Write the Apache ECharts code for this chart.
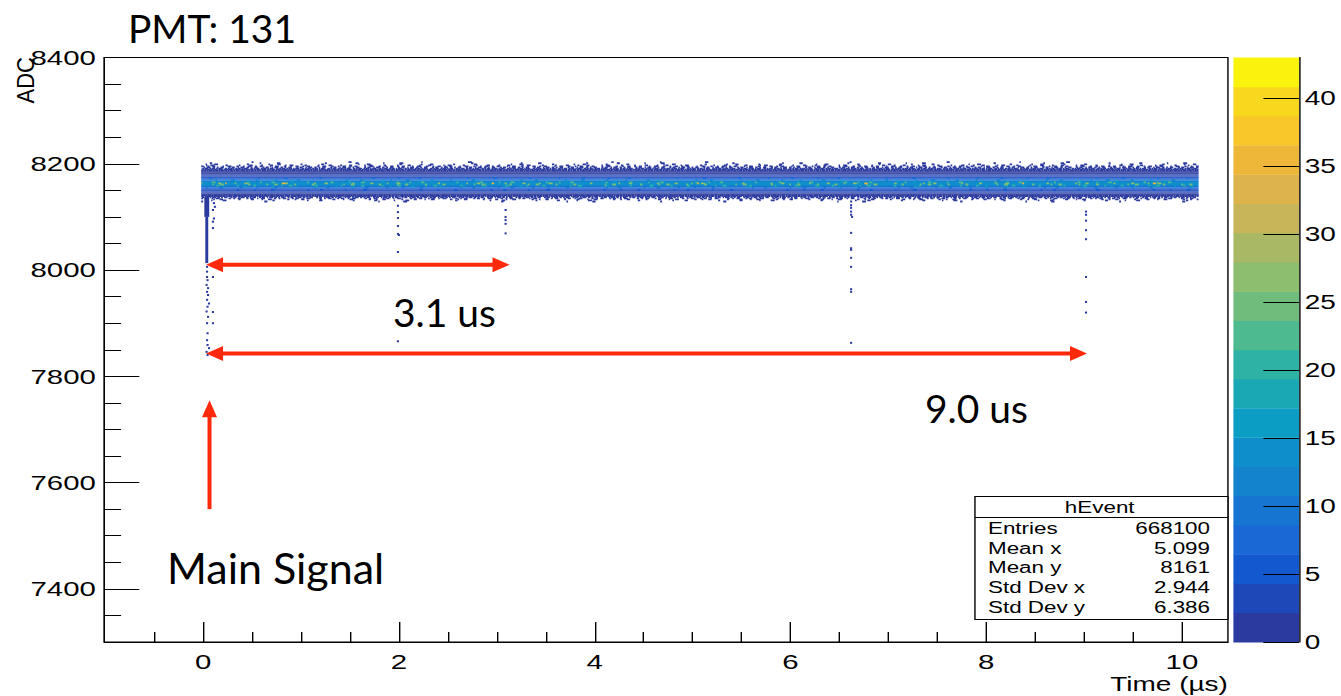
<!DOCTYPE html>
<html>
<head>
<meta charset="utf-8">
<title>PMT 131 – hEvent</title>
<script src="https://cdn.jsdelivr.net/npm/echarts@6.0.0/dist/echarts.min.js"></script>
<style>
  html, body { margin: 0; padding: 0; background: #ffffff; overflow: hidden; }
  #stage { width: 1341px; height: 696px; overflow: hidden; }
  /* The ROOT canvas is shown 1.4x wider than it is tall */
  #chart { width: 958px; height: 696px; transform: scaleX(1.4); transform-origin: 0 0; }
</style>
</head>
<body>
<div id="stage"><div id="chart"></div></div>
<script>
// ---------------- axis ticks ----------------
const timeMajorTicks = [0, 2, 4, 6, 8, 10];
const timeMinorTicks = [-0.5, 0.5, 1, 1.5, 2.5, 3, 3.5, 4.5, 5, 5.5, 6.5, 7, 7.5, 8.5, 9, 9.5];
const adcMajorTicks = [7400, 7600, 7800, 8000, 8200, 8400];
const adcMinorTicks = [7350, 7450, 7500, 7550, 7650, 7700, 7750, 7850, 7900, 7950,
                       8050, 8100, 8150, 8250, 8300, 8350];
const countTicks = [0, 5, 10, 15, 20, 25, 30, 35, 40];

// ---------------- baseline band (2-ADC rows) ----------------
const baselineStart = -0.02;   // µs
const baselineEnd = 10.17;     // µs
const bandRowAdc = [8128, 8130, 8132, 8134, 8136, 8138, 8140, 8142, 8144, 8146,
                    8148, 8150, 8152, 8154, 8156, 8158, 8160, 8162, 8164, 8166,
                    8168, 8170, 8172, 8174, 8176, 8178, 8180, 8182, 8184, 8186,
                    8188, 8190, 8192, 8194, 8196, 8198, 8200, 8202];
const bandRowCount = [1, 1, 1, 1, 1, 1, 1.5, 2, 2, 2.5,
                      3, 4, 5, 7, 9, 11, 13, 14, 13, 11,
                      9, 7, 5, 4, 3, 2.5, 2, 2, 1.5, 1,
                      1, 1, 1, 1, 1, 1, 1, 1];
const bandRowFill = [0.04, 0.10, 0.22, 0.40, 0.62, 0.82, 0.95, 1, 1, 1,
                     1, 1, 1, 1, 1, 1, 1, 1, 1, 1,
                     1, 1, 1, 1, 1, 1, 1, 1, 1, 0.95,
                     0.85, 0.70, 0.52, 0.36, 0.22, 0.12, 0.07, 0.03];
// hot cells scattered through the core of the band
const hotRowAdc = [8150, 8154, 8156, 8158, 8160, 8162, 8164, 8166, 8168, 8172, 8162];
const hotRowCount = [6, 10, 16, 20, 24, 27, 22, 17, 12, 8, 36];
const hotRowFill = [0.10, 0.12, 0.10, 0.12, 0.14, 0.12, 0.12, 0.10, 0.10, 0.08, 0.015];

// ---------------- main pulse (dense column) ----------------
const pulseColumnT0 = [0.012, 0.022];
const pulseColumnT1 = [0.062, 0.052];
const pulseColumnLow = [8100, 8013];
const pulseColumnHigh = [8138, 8100];
const pulseColumnCount = [2, 1];

// ---------------- isolated single hits: pulse tail and afterpulses ----------------
const hitTime = [
  0.04, 0.04, 0.04, 0.045, 0.035, 0.05, 0.04, 0.05, 0.04, 0.06, 0.045, 0.035, 0.05, 0.04, 0.10, 0.045, 0.04, 0.045, 0.06, 0.035, 0.045,
  0.10, 0.10, 0.10, 0.11, 0.12, 0.10, 0.11, 0.10,
  1.99, 1.99, 1.99, 1.99, 1.99, 2.00, 1.99, 1.99, 1.99,
  3.09, 3.09, 3.09, 3.09, 3.09,
  6.62, 6.62, 6.62, 6.62, 6.62, 6.63, 6.62, 6.62, 6.62, 6.62, 6.62, 6.62, 6.62, 6.62,
  9.02, 9.02, 9.02, 9.02, 9.02, 9.02, 9.02, 9.02
];
const hitAdc = [
  8006, 7997, 7987, 7981, 7972, 7966, 7959, 7953, 7944, 7937, 7931, 7922, 7912, 7900, 7900, 7881, 7868, 7859, 7853, 7846, 7840,
  8079, 7987, 7921, 8126, 8119, 8113, 8097, 8091,
  8121, 8109, 8098, 8083, 8068, 8066, 8034, 7902, 7866,
  8113, 8100, 8094, 8087, 8069,
  8129, 8122, 8117, 8110, 8104, 8100, 8070, 8041, 8038, 8023, 8006, 7964, 7959, 7863,
  8110, 8104, 8093, 8075, 8058, 7987, 7940, 7920
];

// ---------------- delays from the main pulse ----------------
const pulseTime = 0.03;                 // µs
const delayValues = [3.1, 9.0];         // µs
const delayLabels = delayValues.map(v => v.toFixed(1) + ' us');

// ---------------- statistics box ----------------
const statNames = ['Entries', 'Mean x', 'Mean y', 'Std Dev x', 'Std Dev y'];
const statValues = ['668100', '5.099', '8161', '2.944', '6.386'];

// ---------------- style ----------------
const STRETCH = 1.4;
const Z_MAX = 43;
const N_CONTOURS = 20;
const PALETTE = ['#2b3a9e', '#1e47b8', '#1458d0', '#1a68d5', '#1775d2', '#1483ce', '#0e8fcb',
                 '#0b9dc4', '#1ba8b5', '#2db2a5', '#4eba90', '#6fbc7d', '#8dbd6e', '#a9b865',
                 '#c8b459', '#ddb44b', '#eeb73a', '#fac72a', '#f8d81f', '#f9f30d'];
const ARROW_RED = '#ff2a0c';
const ROW_ADC = 2;
const DASH_RUNS = [1.4, 2.2, 1.0, 2.8, 1.7, 1.2, 2.4];
const GAP_JITTER = [1.3, 0.6, 1.0, 1.5, 0.8, 1.1, 0.7];

function countColor(c) {
  const i = Math.floor(c / (Z_MAX / N_CONTOURS));
  return PALETTE[Math.max(0, Math.min(N_CONTOURS - 1, i))];
}

// irregular dash pattern giving a row roughly the requested filled fraction
function dashFor(fill, seed) {
  const out = [];
  for (let i = 0; i < DASH_RUNS.length; i++) {
    const on = DASH_RUNS[(i + seed) % DASH_RUNS.length];
    const off = on * (1 - fill) / fill * GAP_JITTER[(i * 3 + seed) % GAP_JITTER.length];
    out.push(on, Math.max(off, 0.3));
  }
  return out;
}

function renderRow(params, api) {
  const adc = api.value(0), count = api.value(1), fill = api.value(2);
  const a = api.coord([baselineStart, adc + ROW_ADC / 2]);
  const b = api.coord([baselineEnd, adc + ROW_ADC / 2]);
  const h = api.size([0, ROW_ADC])[1];
  const color = countColor(count);
  if (fill >= 1) {
    return { type: 'rect', shape: { x: a[0], y: a[1] - h / 2, width: b[0] - a[0], height: h + 0.05 },
             style: { fill: color } };
  }
  const seed = params.dataIndex;
  return {
    type: 'line',
    shape: { x1: a[0], y1: a[1], x2: b[0], y2: b[1] },
    style: { stroke: color, lineWidth: Math.max(h, 1.8), lineDash: dashFor(fill, seed),
             lineDashOffset: seed * 7.3 }
  };
}

// filled arrow(s) built in screen space, so heads stay undistorted after the stretch
function arrowShape(p0, p1, both) {
  const ax = p0[0] * STRETCH, ay = p0[1], bx = p1[0] * STRETCH, by = p1[1];
  const dx = bx - ax, dy = by - ay, len = Math.hypot(dx, dy);
  const ux = dx / len, uy = dy / len, nx = -uy, ny = ux;
  const HL = 17, HW = 7.5, SW = 2;
  const pt = (x, y) => [x / STRETCH, y];
  const s0 = both ? HL - 1 : 0, s1 = HL - 1;
  const children = [{
    type: 'polygon',
    shape: { points: [
      pt(ax + ux * s0 + nx * SW, ay + uy * s0 + ny * SW),
      pt(bx - ux * s1 + nx * SW, by - uy * s1 + ny * SW),
      pt(bx - ux * s1 - nx * SW, by - uy * s1 - ny * SW),
      pt(ax + ux * s0 - nx * SW, ay + uy * s0 - ny * SW)
    ] },
    style: { fill: ARROW_RED }
  }, {
    type: 'polygon',
    shape: { points: [
      pt(bx, by),
      pt(bx - ux * HL + nx * HW, by - uy * HL + ny * HW),
      pt(bx - ux * HL - nx * HW, by - uy * HL - ny * HW)
    ] },
    style: { fill: ARROW_RED }
  }];
  if (both) {
    children.push({
      type: 'polygon',
      shape: { points: [
        pt(ax, ay),
        pt(ax + ux * HL + nx * HW, ay + uy * HL + ny * HW),
        pt(ax + ux * HL - nx * HW, ay + uy * HL - ny * HW)
      ] },
      style: { fill: ARROW_RED }
    });
  }
  return { type: 'group', children };
}

// arrows: [t0, adc0, t1, adc1, double-headed]
const arrowData = [
  [pulseTime, 8010, pulseTime + delayValues[0], 8010, 1],
  [pulseTime, 7843, pulseTime + delayValues[1], 7843, 1],
  [0.065, 7550, 0.065, 7755, 0]
];

const bandData = bandRowAdc.map((a, i) => [a, bandRowCount[i], bandRowFill[i]])
  .concat(hotRowAdc.map((a, i) => [a, hotRowCount[i], hotRowFill[i]]));
const columnData = pulseColumnT0.map((t, i) =>
  [t, pulseColumnLow[i], pulseColumnT1[i], pulseColumnHigh[i], pulseColumnCount[i]]);
const hitData = hitTime.map((t, i) => [t, hitAdc[i]]);
const paletteData = PALETTE.map((c, i) => [i, i]);

const axisText = { color: '#000', fontFamily: 'Liberation Sans' };
const black = { color: '#000', width: 1 };
const plain = v => String(v);

const option = {
  animation: false,
  backgroundColor: '#ffffff',
  textStyle: { fontFamily: 'Liberation Sans' },
  grid: [
    { left: 74.5, top: 57.5, width: 802.6, height: 584.5, show: true,
      borderColor: '#000', borderWidth: 1, backgroundColor: 'transparent' },
    { left: 881, top: 57.5, width: 46.9, height: 584.5, show: false }
  ],
  xAxis: [
    { type: 'value', gridIndex: 0, min: -1.01, max: 10.47, position: 'bottom', z: 5,
      axisLine: { onZero: false, lineStyle: black },
      axisTick: { inside: true, length: 20, customValues: timeMajorTicks, lineStyle: black },
      axisLabel: { customValues: timeMajorTicks, formatter: plain, fontSize: 21, margin: 9, ...axisText },
      splitLine: { show: false } },
    { type: 'value', gridIndex: 0, min: -1.01, max: 10.47, position: 'bottom', z: 5,
      axisLine: { show: false, onZero: false },
      axisTick: { inside: true, length: 10, customValues: timeMinorTicks, lineStyle: black },
      axisLabel: { show: false }, splitLine: { show: false } },
    { type: 'value', gridIndex: 1, min: 0, max: 1, show: false }
  ],
  yAxis: [
    { type: 'value', gridIndex: 0, min: 7300, max: 8400, position: 'left', z: 5,
      axisLine: { onZero: false, lineStyle: black },
      axisTick: { inside: true, length: 25, customValues: adcMajorTicks, lineStyle: black },
      axisLabel: { customValues: adcMajorTicks, formatter: plain, fontSize: 21, margin: 6, ...axisText },
      splitLine: { show: false } },
    { type: 'value', gridIndex: 0, min: 7300, max: 8400, position: 'left', z: 5,
      axisLine: { show: false, onZero: false },
      axisTick: { inside: true, length: 12, customValues: adcMinorTicks, lineStyle: black },
      axisLabel: { show: false }, splitLine: { show: false } },
    { type: 'value', gridIndex: 1, min: 0, max: Z_MAX, position: 'right', z: 5,
      axisLine: { onZero: false, lineStyle: black },
      axisTick: { inside: true, length: 25.5, customValues: countTicks, lineStyle: black },
      axisLabel: { customValues: countTicks, formatter: plain, fontSize: 20, margin: 4, ...axisText },
      splitLine: { show: false } }
  ],
  series: [
    { type: 'custom', name: 'baseline', xAxisIndex: 0, yAxisIndex: 0, z: 2,
      encode: { x: -1, y: 0 }, data: bandData, renderItem: renderRow },
    { type: 'custom', name: 'pulse', xAxisIndex: 0, yAxisIndex: 0, z: 3, data: columnData,
      encode: { x: [0, 2], y: [1, 3] },
      renderItem(params, api) {
        const p0 = api.coord([api.value(0), api.value(1)]);
        const p1 = api.coord([api.value(2), api.value(3)]);
        return { type: 'rect',
                 shape: { x: p0[0], y: p1[1], width: Math.max(p1[0] - p0[0], 1.5), height: p0[1] - p1[1] },
                 style: { fill: countColor(api.value(4)) } };
      } },
    { type: 'custom', name: 'hits', xAxisIndex: 0, yAxisIndex: 0, z: 3, data: hitData,
      renderItem(params, api) {
        const p = api.coord([api.value(0), api.value(1)]);
        return { type: 'rect', shape: { x: p[0] - 0.75, y: p[1] - 1, width: 1.5, height: 2 },
                 style: { fill: countColor(1) } };
      } },
    { type: 'custom', name: 'arrows', xAxisIndex: 0, yAxisIndex: 0, z: 6, data: arrowData,
      encode: { x: [0, 2], y: [1, 3] },
      renderItem(params, api) {
        const p0 = api.coord([api.value(0), api.value(1)]);
        const p1 = api.coord([api.value(2), api.value(3)]);
        return arrowShape(p0, p1, api.value(4) === 1);
      } },
    { type: 'custom', name: 'palette', xAxisIndex: 2, yAxisIndex: 2, z: 2, data: paletteData,
      encode: { x: -1, y: 1 },
      renderItem(params, api) {
        const i = api.value(0);
        const step = Z_MAX / N_CONTOURS;
        const p0 = api.coord([0, i * step]);
        const p1 = api.coord([1, (i + 1) * step]);
        return { type: 'rect',
                 shape: { x: p0[0], y: p1[1], width: p1[0] - p0[0], height: p0[1] - p1[1] + 0.4 },
                 style: { fill: PALETTE[i] } };
      } }
  ],
  graphic: [
    { type: 'text', x: 91.4, y: 28, scaleX: 1 / STRETCH, z: 100,
      style: { text: 'PMT: 131', fontFamily: 'Lato', fontSize: 39, fill: '#000', textVerticalAlign: 'middle' } },
    { type: 'text', x: 9.3, y: 57, rotation: Math.PI / 2, scaleY: 0.8, z: 100,
      style: { text: 'ADC', fontFamily: 'Liberation Sans', fontSize: 22, fill: '#000',
               textAlign: 'right', textVerticalAlign: 'top' } },
    { type: 'text', x: 877.1, y: 684, z: 100,
      style: { text: 'Time (µs)', fontFamily: 'Liberation Sans', fontSize: 20, fill: '#000',
               textAlign: 'right', textVerticalAlign: 'middle' } },
    { type: 'text', x: 280.7, y: 311.5, scaleX: 1 / STRETCH, z: 100,
      style: { text: delayLabels[0], fontFamily: 'Lato', fontSize: 39, fill: '#000', textVerticalAlign: 'middle' } },
    { type: 'text', x: 660.7, y: 408, scaleX: 1 / STRETCH, z: 100,
      style: { text: delayLabels[1], fontFamily: 'Lato', fontSize: 39, fill: '#000', textVerticalAlign: 'middle' } },
    { type: 'text', x: 119.3, y: 567, scaleX: 1 / STRETCH, z: 100,
      style: { text: 'Main Signal', fontFamily: 'Lato', fontSize: 43, fill: '#000', textVerticalAlign: 'middle' } },
    { type: 'rect', z: 100, shape: { x: 696.4, y: 496.5, width: 180.7, height: 123 },
      style: { fill: '#ffffff', stroke: '#000', lineWidth: 1 } },
    { type: 'line', z: 101, shape: { x1: 696.4, y1: 517.5, x2: 877.1, y2: 517.5 },
      style: { stroke: '#000', lineWidth: 1 } },
    { type: 'text', x: 785.5, y: 507.5, z: 101,
      style: { text: 'hEvent', fontFamily: 'Liberation Sans', fontSize: 16, fill: '#000',
               textAlign: 'center', textVerticalAlign: 'middle' } }
  ].concat(statNames.map((n, i) => ({
    type: 'text', x: 705.7, y: 528.5 + i * 19.6, z: 101,
    style: { text: n, fontFamily: 'Liberation Sans', fontSize: 16, fill: '#000', textVerticalAlign: 'middle' }
  }))).concat(statValues.map((v, i) => ({
    type: 'text', x: 864.3, y: 528.5 + i * 19.6, z: 101,
    style: { text: v, fontFamily: 'Liberation Sans', fontSize: 16, fill: '#000',
             textAlign: 'right', textVerticalAlign: 'middle' }
  })))
};

const chart = echarts.init(document.getElementById('chart'), null, { renderer: 'svg' });
chart.setOption(option);
</script>
</body>
</html>
